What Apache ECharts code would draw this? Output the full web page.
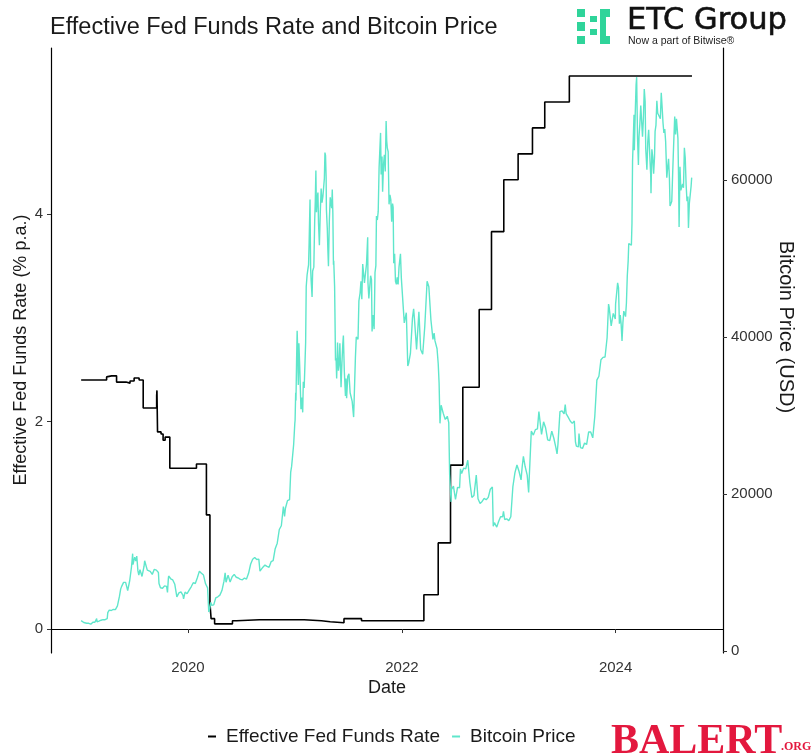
<!DOCTYPE html>
<html>
<head>
<meta charset="utf-8">
<script src="https://cdn.jsdelivr.net/npm/echarts@6/dist/echarts.min.js"></script>
<style>html,body{margin:0;padding:0;background:#fff;}#chart{width:811px;height:756px;}</style>
</head>
<body>
<div id="chart"></div>
<script>
// ---------- DATA ----------
var xTickLabels = ['2020-01-01', '2022-01-01', '2024-01-01'];
var leftTicks = [0, 2, 4];
var rightTicks = [0, 20000, 40000, 60000];
var seriesNames = ['Effective Fed Funds Rate', 'Bitcoin Price'];

var rateDates = ['2019-01-01','2019-03-29','2019-04-01','2019-04-15','2019-05-02','2019-06-03','2019-06-17','2019-07-01','2019-07-18','2019-08-01','2019-09-16','2019-09-17','2019-09-19','2019-10-01','2019-10-08','2019-10-15','2019-10-31','2019-12-31','2020-01-30','2020-03-04','2020-03-16','2020-03-20','2020-04-01','2020-06-01','2020-06-15','2020-09-01','2020-12-01','2021-01-01','2021-02-01','2021-04-01','2021-05-01','2021-06-17','2021-08-16','2022-03-17','2022-05-05','2022-06-16','2022-07-28','2022-09-22','2022-11-03','2022-12-15','2023-02-02','2023-03-23','2023-05-04','2023-07-27','2024-09-18'];
var rateValues = [2.40,2.43,2.44,2.44,2.38,2.37,2.39,2.42,2.40,2.13,2.25,2.30,1.90,1.88,1.82,1.85,1.55,1.55,1.59,1.10,0.25,0.10,0.05,0.08,0.09,0.09,0.09,0.09,0.08,0.07,0.06,0.10,0.08,0.33,0.83,1.58,2.33,3.08,3.83,4.33,4.58,4.83,5.08,5.33,5.33];

var btc2019 = [['2019-01-01',3870],['2019-01-06',4040],['2019-01-10',3630],['2019-01-13',3510],['2019-01-20',3540],['2019-01-27',3530],['2019-02-03',3410],['2019-02-10',3660],['2019-02-17',3670],['2019-02-23',4120],['2019-02-24',3730],['2019-03-03',3810],['2019-03-10',3920],['2019-03-17',4000],['2019-03-24',3990],['2019-03-31',4110],['2019-04-02',4880],['2019-04-07',5200],['2019-04-14',5160],['2019-04-21',5300],['2019-04-28',5270],['2019-05-05',5750],['2019-05-12',6980],['2019-05-16',7880],['2019-05-19',8200],['2019-05-26',8740],['2019-05-30',8660],['2019-06-02',8740],['2019-06-09',7690],['2019-06-16',8980],['2019-06-22',10700],['2019-06-26',12400],['2019-06-27',11000],['2019-06-30',10820],['2019-07-03',11960],['2019-07-07',11450],['2019-07-10',12100],['2019-07-14',10200],['2019-07-17',9680],['2019-07-21',10350],['2019-07-28',9500],['2019-08-04',10800],['2019-08-06',11500],['2019-08-11',11380],['2019-08-15',10300],['2019-08-18',10230],['2019-08-25',10140],['2019-09-01',9760],['2019-09-08',10400],['2019-09-15',10300],['2019-09-22',10000],['2019-09-24',8600],['2019-09-29',8050],['2019-10-06',7990],['2019-10-13',8300],['2019-10-20',8240],['2019-10-23',7460],['2019-10-26',9250],['2019-10-27',9550],['2019-11-03',9200],['2019-11-10',9050],['2019-11-17',8500],['2019-11-24',6900],['2019-12-01',7400],['2019-12-08',7520],['2019-12-15',7080],['2019-12-17',6640],['2019-12-22',7500],['2019-12-29',7300]];

var btc2020 = [['2020-01-05',7760],['2020-01-12',8180],['2020-01-19',8700],['2020-01-26',8600],['2020-02-02',9340],['2020-02-09',10170],['2020-02-13',10360],['2020-02-16',9900],['2020-02-23',9670],['2020-03-01',8560],['2020-03-08',8040],['2020-03-12',4970],['2020-03-15',5360],['2020-03-19',6190],['2020-03-22',5830],['2020-03-29',5880],['2020-04-05',6780],['2020-04-12',6910],['2020-04-19',7120],['2020-04-26',7700],['2020-05-03',8900],['2020-05-07',9950],['2020-05-10',8760],['2020-05-17',9670],['2020-05-24',8790],['2020-05-31',9450],['2020-06-07',9760],['2020-06-14',9390],['2020-06-21',9300],['2020-06-28',9120],['2020-07-05',9070],['2020-07-12',9290],['2020-07-19',9170],['2020-07-26',9900],['2020-08-02',11050],['2020-08-09',11680],['2020-08-16',11900],['2020-08-23',11650],['2020-08-30',11700],['2020-09-03',10170],['2020-09-06',10270],['2020-09-13',10680],['2020-09-20',10940],['2020-09-27',10770],['2020-10-04',10670],['2020-10-11',11380],['2020-10-18',11500],['2020-10-25',13030],['2020-11-01',13740],['2020-11-08',15480],['2020-11-15',15960],['2020-11-22',18410],['2020-11-26',17150],['2020-11-29',18180],['2020-12-06',19150],['2020-12-13',19270],['2020-12-17',22800],['2020-12-20',23480],['2020-12-24',23700],['2020-12-27',26270],['2020-12-31',29000]];

var btc2021 = [['2021-01-01',29400],['2021-01-03',32900],['2021-01-04',31900],['2021-01-06',36800],['2021-01-08',40800],['2021-01-10',38300],['2021-01-11',35500],['2021-01-12',33900],['2021-01-14',39200],['2021-01-17',36000],['2021-01-19',36000],['2021-01-21',30800],['2021-01-24',32300],['2021-01-27',30400],['2021-01-29',34300],['2021-02-01',33500],['2021-02-04',36900],['2021-02-06',39300],['2021-02-08',46400],['2021-02-11',47900],['2021-02-14',48700],['2021-02-16',49200],['2021-02-18',52100],['2021-02-21',57500],['2021-02-23',48800],['2021-02-25',47100],['2021-02-28',45100],['2021-03-02',48400],['2021-03-04',48400],['2021-03-06',48900],['2021-03-09',54900],['2021-03-11',57300],['2021-03-13',61200],['2021-03-15',55900],['2021-03-18',57800],['2021-03-20',58400],['2021-03-22',54500],['2021-03-25',51700],['2021-03-28',55800],['2021-03-31',58900],['2021-04-03',57100],['2021-04-06',57900],['2021-04-08',58100],['2021-04-11',60200],['2021-04-13',63500],['2021-04-15',63100],['2021-04-17',60400],['2021-04-18',56200],['2021-04-21',53800],['2021-04-23',51100],['2021-04-25',49000],['2021-04-28',54800],['2021-05-01',57800],['2021-05-03',57200],['2021-05-06',56400],['2021-05-08',58800],['2021-05-10',55800],['2021-05-12',49200],['2021-05-13',49700],['2021-05-16',46400],['2021-05-17',43500],['2021-05-19',37000],['2021-05-21',37300],['2021-05-23',34700],['2021-05-26',39300],['2021-05-29',35700],['2021-06-01',36700],['2021-06-03',39200],['2021-06-07',33600],['2021-06-10',36700],['2021-06-13',39100],['2021-06-15',40200],['2021-06-18',35800],['2021-06-22',32500],['2021-06-24',34700],['2021-06-26',32200],['2021-06-30',35000],['2021-07-04',35300],['2021-07-08',32900],['2021-07-12',32700],['2021-07-15',31800],['2021-07-20',29800],['2021-07-22',32300],['2021-07-26',37300],['2021-07-29',40000],['2021-08-01',39900],['2021-08-04',39700],['2021-08-07',44600],['2021-08-11',45600],['2021-08-14',47100],['2021-08-17',44800],['2021-08-20',49300],['2021-08-23',49500],['2021-08-26',46900],['2021-08-30',47000],['2021-09-02',49300],['2021-09-06',52700],['2021-09-07',46900],['2021-09-10',44900],['2021-09-13',44900],['2021-09-16',47800],['2021-09-19',47300],['2021-09-21',40700],['2021-09-24',42800],['2021-09-28',41000],['2021-10-01',48200],['2021-10-04',49100],['2021-10-06',55400],['2021-10-09',54900],['2021-10-12',56000],['2021-10-15',61600],['2021-10-17',61500],['2021-10-20',66000],['2021-10-22',60700],['2021-10-25',63000],['2021-10-27',58500],['2021-10-30',61900],['2021-11-02',63200],['2021-11-05',61100],['2021-11-08',67500],['2021-11-10',65000],['2021-11-12',64100],['2021-11-15',63600],['2021-11-18',56900],['2021-11-21',58100],['2021-11-24',57500],['2021-11-27',54700],['2021-11-30',57000],['2021-12-02',56500],['2021-12-04',49400],['2021-12-07',50600],['2021-12-10',47100],['2021-12-13',46700],['2021-12-16',47600],['2021-12-19',46700],['2021-12-22',48900],['2021-12-27',50600],['2021-12-30',47500]];

var btc2022 = [['2022-01-02',47300],['2022-01-09',41800],['2022-01-16',43100],['2022-01-21',36300],['2022-01-24',36650],['2022-01-30',37900],['2022-02-06',42400],['2022-02-10',43600],['2022-02-13',42200],['2022-02-20',38400],['2022-02-24',38300],['2022-02-28',43200],['2022-03-06',38400],['2022-03-13',37800],['2022-03-20',41300],['2022-03-28',47100],['2022-04-03',46400],['2022-04-10',42200],['2022-04-17',39700],['2022-04-21',40500],['2022-04-24',39500],['2022-05-01',38500],['2022-05-05',36600],['2022-05-08',34100],['2022-05-11',29000],['2022-05-15',31300],['2022-05-22',30300],['2022-05-29',29500],['2022-06-05',29900],['2022-06-10',29100],['2022-06-13',22500],['2022-06-18',19000],['2022-06-19',20550],['2022-06-26',21000],['2022-07-03',19300],['2022-07-10',20850],['2022-07-17',20800],['2022-07-20',23200],['2022-07-24',22600],['2022-07-31',23300],['2022-08-07',23200],['2022-08-14',24300],['2022-08-21',21500],['2022-08-28',19550],['2022-09-04',19800],['2022-09-12',22400],['2022-09-18',19400],['2022-09-25',18800],['2022-10-02',19050],['2022-10-09',19450],['2022-10-16',19270],['2022-10-23',19570],['2022-10-30',20600],['2022-11-06',20900],['2022-11-09',15900],['2022-11-13',16350],['2022-11-21',15780],['2022-11-27',16460],['2022-12-04',17100],['2022-12-11',17100],['2022-12-14',17800],['2022-12-18',16750],['2022-12-25',16840]];

var btc2023 = [['2023-01-01',16600],['2023-01-08',17100],['2023-01-15',20900],['2023-01-22',22700],['2023-01-29',23700],['2023-02-05',22900],['2023-02-12',21800],['2023-02-16',23500],['2023-02-20',24800],['2023-02-26',23500],['2023-03-05',22400],['2023-03-10',20200],['2023-03-12',22100],['2023-03-19',28000],['2023-03-26',27500],['2023-04-02',28200],['2023-04-09',28300],['2023-04-14',30500],['2023-04-16',30300],['2023-04-23',27600],['2023-04-30',29200],['2023-05-07',28400],['2023-05-14',26900],['2023-05-21',26800],['2023-05-28',28000],['2023-06-04',27100],['2023-06-11',25900],['2023-06-15',25100],['2023-06-18',26300],['2023-06-25',30500],['2023-07-02',30600],['2023-07-09',30200],['2023-07-13',31400],['2023-07-16',30250],['2023-07-23',29800],['2023-07-30',29300],['2023-08-06',29000],['2023-08-13',29300],['2023-08-17',26600],['2023-08-20',26100],['2023-08-27',26000],['2023-08-29',27700],['2023-09-03',25900],['2023-09-10',25800],['2023-09-17',26500],['2023-09-24',26300],['2023-10-01',27900],['2023-10-08',27900],['2023-10-15',27150],['2023-10-22',29900],['2023-10-29',34500],['2023-11-05',35000],['2023-11-12',37100],['2023-11-19',37400],['2023-11-26',37450],['2023-12-03',39900],['2023-12-08',44200],['2023-12-10',43800],['2023-12-17',41400],['2023-12-24',43000],['2023-12-31',42300]];

var btc2024 = [['2024-01-01',44200],['2024-01-04',44200],['2024-01-08',46900],['2024-01-11',46300],['2024-01-14',41700],['2024-01-17',42800],['2024-01-20',41600],['2024-01-23',39500],['2024-01-26',41800],['2024-01-29',43300],['2024-02-01',43100],['2024-02-04',42600],['2024-02-07',44300],['2024-02-10',47800],['2024-02-13',49700],['2024-02-15',51900],['2024-02-18',52100],['2024-02-21',51800],['2024-02-24',51700],['2024-02-26',54500],['2024-02-28',62400],['2024-03-01',62400],['2024-03-04',68300],['2024-03-05',63800],['2024-03-08',68300],['2024-03-11',72100],['2024-03-13',73100],['2024-03-16',65300],['2024-03-19',61900],['2024-03-21',65500],['2024-03-24',67200],['2024-03-27',69500],['2024-03-30',69700],['2024-04-02',65500],['2024-04-05',67800],['2024-04-08',71600],['2024-04-11',70000],['2024-04-13',64000],['2024-04-17',61300],['2024-04-20',64900],['2024-04-23',66400],['2024-04-26',63800],['2024-04-30',60600],['2024-05-01',58300],['2024-05-04',63900],['2024-05-07',62900],['2024-05-10',60800],['2024-05-13',62900],['2024-05-15',66200],['2024-05-18',67000],['2024-05-21',70100],['2024-05-24',68500],['2024-05-27',68400],['2024-05-30',68400],['2024-06-02',67800],['2024-06-05',71100],['2024-06-08',69300],['2024-06-11',67300],['2024-06-14',66000],['2024-06-17',66500],['2024-06-20',64900],['2024-06-24',60300],['2024-06-27',61600],['2024-06-30',62700],['2024-07-03',60200],['2024-07-05',56700],['2024-07-08',56700],['2024-07-11',57300],['2024-07-14',60800],['2024-07-17',64100],['2024-07-21',68100],['2024-07-24',65800],['2024-07-27',67800],['2024-07-29',66800],['2024-08-01',65300],['2024-08-03',60700],['2024-08-05',54000],['2024-08-08',61700],['2024-08-11',58700],['2024-08-14',58700],['2024-08-17',59500],['2024-08-20',59000],['2024-08-23',64100],['2024-08-26',62800],['2024-08-29',59400],['2024-09-01',57300],['2024-09-04',57900],['2024-09-06',53900],['2024-09-09',57000],['2024-09-12',58100],['2024-09-15',59200],['2024-09-17',60300]];

// ---------- BUILD ----------
function ts(s){ var p = s.split('-'); return Date.UTC(+p[0], +p[1]-1, +p[2]); }
var rateData = rateDates.map(function(d,i){ return [ts(d), rateValues[i]]; });
var btcData = [].concat(btc2019, btc2020, btc2021, btc2022, btc2023, btc2024).map(function(p){ return [ts(p[0]), p[1]]; });
var xTicks = xTickLabels.map(ts);

var FONT = '"Liberation Sans", Arial, sans-serif';
var chart = echarts.init(document.getElementById('chart'), null, {renderer: 'canvas'});

var axisLineStyle = {color: '#000', width: 1.2};
var tickStyle = {color: '#333', width: 1};
var plainNum = function(v){ return String(v); };

chart.setOption({
  animation: false,
  backgroundColor: '#fff',
  grid: {left: 51, right: 88, top: 48, bottom: 103, containLabel: false},
  legend: {
    data: seriesNames,
    left: 203, top: 722,
    icon: 'rect', itemWidth: 8, itemHeight: 2, itemGap: 12,
    textStyle: {fontFamily: FONT, fontSize: 19, color: '#1a1a1a', padding: [0,0,0,5]}
  },
  xAxis: {
    type: 'value',
    min: ts('2018-09-20'), max: ts('2025-01-02'),
    splitLine: {show: false},
    axisLine: {show: true, lineStyle: axisLineStyle},
    axisTick: {show: true, length: 4, lineStyle: tickStyle, customValues: xTicks},
    axisLabel: {
      customValues: xTicks,
      formatter: function(v){ return String(new Date(v).getUTCFullYear()); },
      fontFamily: FONT, fontSize: 15, color: '#333', margin: 7
    }
  },
  yAxis: [{
    type: 'value', position: 'left',
    min: -0.231, max: 5.60,
    splitLine: {show: false},
    axisLine: {show: true, lineStyle: axisLineStyle},
    axisTick: {show: true, length: 4, lineStyle: tickStyle, customValues: leftTicks},
    axisLabel: {customValues: leftTicks, formatter: plainNum, fontFamily: FONT, fontSize: 15, color: '#333', margin: 8}
  }, {
    type: 'value', position: 'right',
    min: -255, max: 76815,
    splitLine: {show: false},
    axisLine: {show: true, lineStyle: axisLineStyle},
    axisTick: {show: true, length: 4, lineStyle: tickStyle, customValues: rightTicks},
    axisLabel: {customValues: rightTicks, formatter: plainNum, fontFamily: FONT, fontSize: 15, color: '#333', margin: 8}
  }],
  series: [{
    name: seriesNames[0], type: 'line', yAxisIndex: 0, step: 'end',
    showSymbol: false, symbol: 'none', data: rateData,
    color: '#000', lineStyle: {color: '#000', width: 1.6}
  }, {
    name: seriesNames[1], type: 'line', yAxisIndex: 1,
    showSymbol: false, symbol: 'none', data: btcData,
    color: '#5fe6cb', lineStyle: {color: '#5fe6cb', width: 1.4}
  }],
  graphic: [
    {type: 'text', x: 50, y: 16, style: {text: 'Effective Fed Funds Rate and Bitcoin Price', font: '23.5px ' + FONT, fill: '#1a1a1a', textAlign: 'left', textVerticalAlign: 'top'}},
    {type: 'text', x: 21, y: 350, rotation: Math.PI/2, style: {text: 'Effective Fed Funds Rate (% p.a.)', font: '18px ' + FONT, fill: '#1a1a1a', textAlign: 'center', textVerticalAlign: 'middle'}},
    {type: 'text', x: 786, y: 327, rotation: -Math.PI/2, style: {text: 'Bitcoin Price (USD)', font: '20px ' + FONT, fill: '#1a1a1a', textAlign: 'center', textVerticalAlign: 'middle'}},
    {type: 'text', x: 387, y: 688, style: {text: 'Date', font: '18px ' + FONT, fill: '#1a1a1a', textAlign: 'center', textVerticalAlign: 'middle'}},
    {type: 'rect', shape: {x: 577, y: 9, width: 8, height: 8}, style: {fill: '#2fd49a'}},
    {type: 'rect', shape: {x: 577, y: 22, width: 8, height: 9}, style: {fill: '#2fd49a'}},
    {type: 'rect', shape: {x: 577, y: 36, width: 8, height: 8}, style: {fill: '#2fd49a'}},
    {type: 'rect', shape: {x: 590, y: 16, width: 7, height: 6}, style: {fill: '#2fd49a'}},
    {type: 'rect', shape: {x: 590, y: 29, width: 7, height: 6}, style: {fill: '#2fd49a'}},
    {type: 'rect', shape: {x: 600, y: 9, width: 10, height: 8}, style: {fill: '#2fd49a'}},
    {type: 'rect', shape: {x: 600, y: 9, width: 6, height: 35}, style: {fill: '#2fd49a'}},
    {type: 'rect', shape: {x: 600, y: 36, width: 10, height: 8}, style: {fill: '#2fd49a'}},
    {type: 'text', x: 627, y: 6, style: {text: 'ETC Group', font: '30.5px "DejaVu Sans", ' + FONT, fill: '#111', stroke: '#111', lineWidth: 0.6, textAlign: 'left', textVerticalAlign: 'top'}},
    {type: 'text', x: 628, y: 36, style: {text: 'Now a part of Bitwise®', font: '10.5px ' + FONT, fill: '#222', textAlign: 'left', textVerticalAlign: 'top'}},
    {type: 'text', x: 611, y: 721, style: {text: 'BALERT', font: 'bold 42px "Liberation Serif", serif', fill: '#e3183e', textAlign: 'left', textVerticalAlign: 'top'}},
    {type: 'text', x: 781, y: 741, style: {text: '.ORG', font: 'bold 12px "Liberation Serif", serif', fill: '#e3183e', textAlign: 'left', textVerticalAlign: 'top'}}
  ]
});
</script>
</body>
</html>
